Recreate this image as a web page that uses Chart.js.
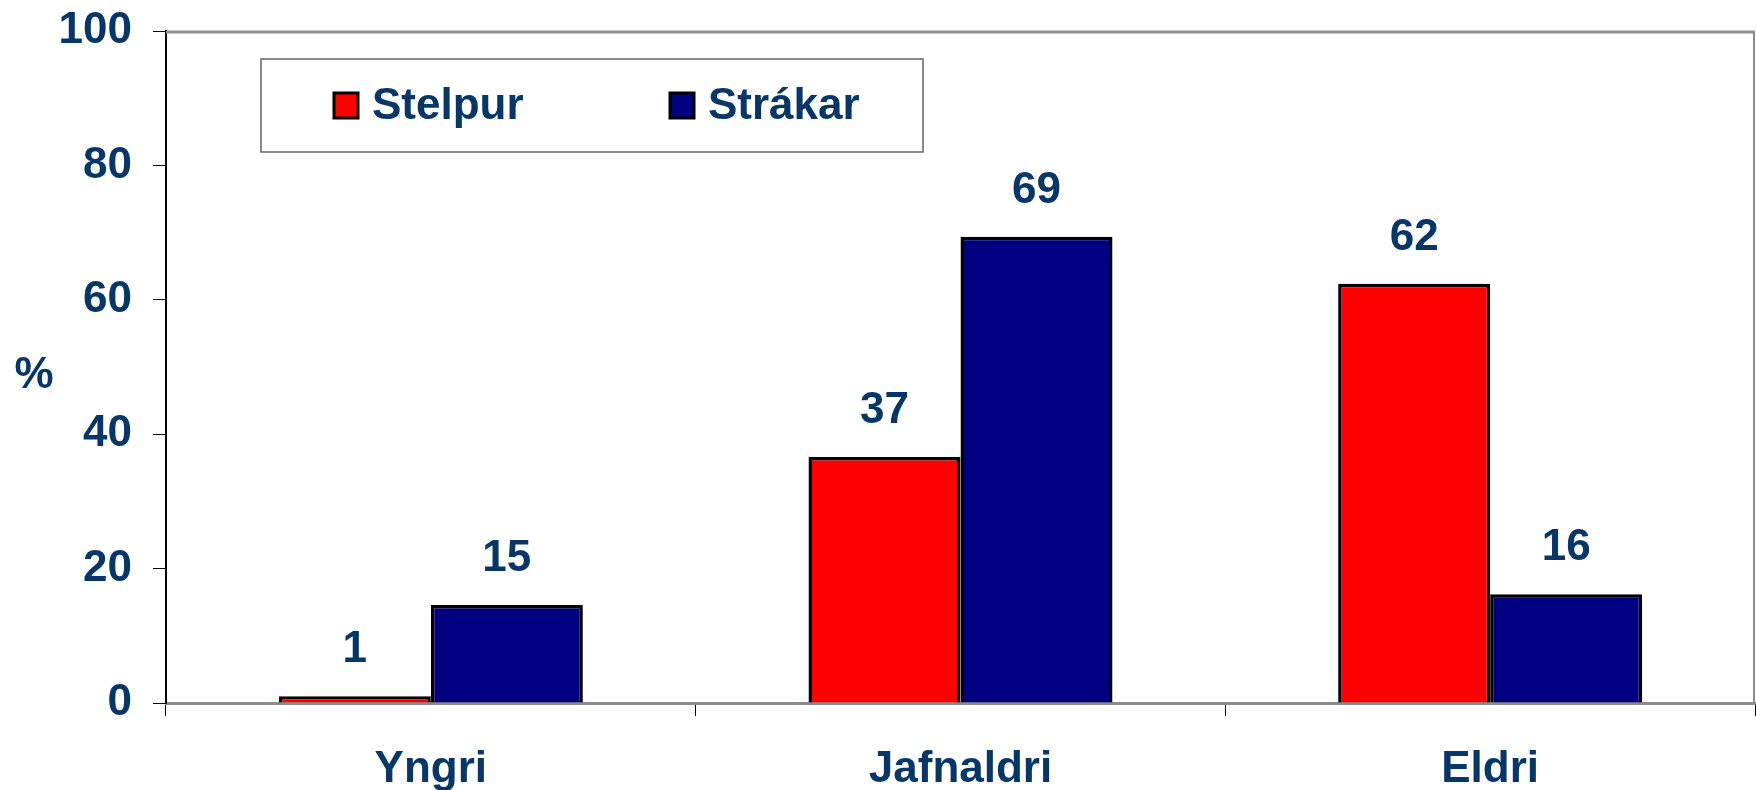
<!DOCTYPE html>
<html lang="is">
<head>
<meta charset="UTF-8">
<title>Stelpur og strákar</title>
<script src="https://cdn.jsdelivr.net/npm/chart.js@4.4.0/dist/chart.umd.min.js"></script>
<style>
  html, body { margin: 0; padding: 0; background: #fff; }
  #wrap { width: 1756px; height: 790px; }
</style>
</head>
<body>
<div id="wrap"><canvas id="myChart"></canvas></div>
<script>
  // gogn lesin af myndinni
  const categories = ['Yngri', 'Jafnaldri', 'Eldri'];
  const seriesNames = ['Stelpur', 'Strákar'];
  const stelpur = [1, 36.6, 62.4];
  const strakar = [14.6, 69.4, 16.2];
  const yTicks = [0, 20, 40, 60, 80, 100];

  const textColor = '#073669';
  const fontFam = '"Liberation Sans", Arial, sans-serif';

  // rammi efst og til haegri
  const frame = {
    id: 'frame',
    afterDraw(chart) {
      const a = chart.chartArea, c = chart.ctx;
      c.save();
      c.strokeStyle = '#8c8c8c';
      c.lineWidth = 3;
      c.beginPath(); c.moveTo(a.left, a.top + 1); c.lineTo(a.right, a.top + 1); c.stroke();
      c.lineWidth = 2;
      c.beginPath(); c.moveTo(a.right - 1, a.top); c.lineTo(a.right - 1, a.bottom); c.stroke();
      c.restore();
    }
  };

  // tolur fyrir ofan sulurnar
  const barLabels = {
    id: 'barLabels',
    afterDatasetsDraw(chart) {
      const c = chart.ctx;
      c.save();
      c.fillStyle = textColor;
      c.font = 'bold 44px ' + fontFam;
      c.textAlign = 'center';
      c.textBaseline = 'middle';
      chart.data.datasets.forEach((ds, i) => {
        chart.getDatasetMeta(i).data.forEach((bar, j) => {
          c.fillText(Math.round(ds.data[j]), bar.x, bar.y - 46);
        });
      });
      c.restore();
    }
  };

  // skyring inni i teiknisvaedinu + % merki
  const boxLegend = {
    id: 'boxLegend',
    afterDraw(chart) {
      const c = chart.ctx;
      c.save();
      c.strokeStyle = '#666';
      c.lineWidth = 1.5;
      c.strokeRect(261, 59, 662, 93);
      c.font = 'bold 44px ' + fontFam;
      c.textBaseline = 'middle';
      c.fillStyle = textColor;
      const xs = [334, 670];
      chart.data.datasets.forEach((ds, i) => {
        c.fillStyle = ds.backgroundColor;
        c.fillRect(xs[i], 93, 24, 25);
        c.strokeStyle = '#000';
        c.lineWidth = 3;
        c.strokeRect(xs[i], 93, 24, 25);
        c.fillStyle = textColor;
        c.fillText(ds.label, xs[i] + 38, 107);
      });
      c.textAlign = 'center';
      c.fillText('%', 34, 376);
      c.restore();
    }
  };

  const ctx = document.getElementById('myChart').getContext('2d');
  const myChart = new Chart(ctx, {
    type: 'bar',
    data: {
      labels: categories,
      datasets: [
        { label: seriesNames[0], data: stelpur, backgroundColor: '#ff0000', borderColor: '#000', borderWidth: 3.5 },
        { label: seriesNames[1], data: strakar, backgroundColor: '#000080', borderColor: '#000', borderWidth: 3.5 }
      ]
    },
    options: {
      responsive: true,
      maintainAspectRatio: false,
      animation: false,
      layout: { padding: { top: 31, right: 1, left: 0, bottom: 0 } },
      datasets: { bar: { categoryPercentage: 0.574, barPercentage: 1 } },
      plugins: { legend: { display: false }, tooltip: { enabled: false } },
      scales: {
        x: {
          offset: true,
          grid: { drawOnChartArea: false, drawTicks: true, tickLength: 13, color: '#000', offset: true },
          border: { color: '#8c8c8c', width: 3 },
          ticks: { color: textColor, font: { family: fontFam, size: 44, weight: 'bold' }, padding: 27 },
          afterFit(s) { s.height = 87; s.paddingLeft = 0; s.paddingRight = 0; }
        },
        y: {
          min: 0, max: 100,
          afterBuildTicks(s) { s.ticks = yTicks.map(v => ({ value: v })); },
          grid: { drawOnChartArea: false, drawTicks: true, tickLength: 13, color: '#000' },
          border: { color: '#000', width: 2 },
          ticks: { color: textColor, font: { family: fontFam, size: 44, weight: 'bold' }, padding: 21 },
          afterFit(s) { s.width = 166; s.paddingTop = 0; s.paddingBottom = 0; }
        }
      }
    },
    plugins: [frame, barLabels, boxLegend]
  });
</script>
</body>
</html>
